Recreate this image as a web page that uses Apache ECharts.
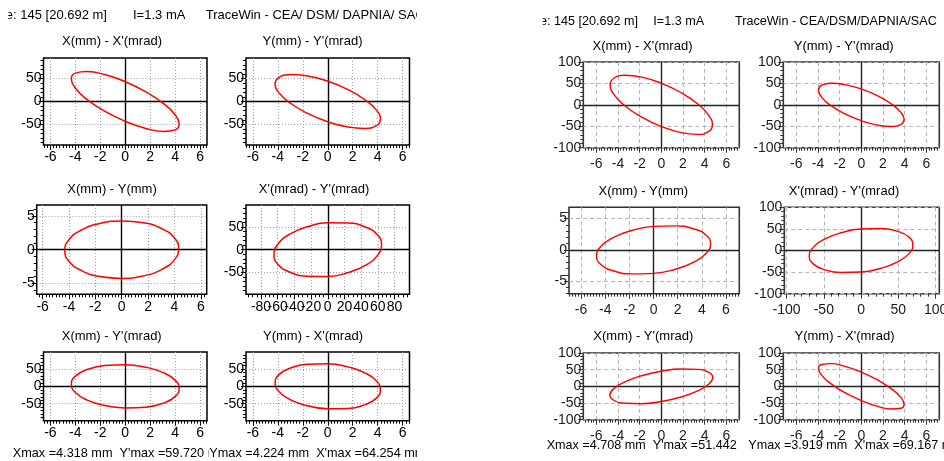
<!DOCTYPE html>
<html><head><meta charset="utf-8">
<script src="https://cdn.jsdelivr.net/npm/echarts@6/dist/echarts.min.js"></script>
<style>html,body{margin:0;padding:0;background:#fff}#c{width:944px;height:461px}</style>
</head><body><div id="c"></div><script>
// ---------- tick labels ----------
const mmMajor = [-6, -4, -2, 0, 2, 4, 6];
const mmMajorXY = [-5, 0, 5];
const mradMajorL = [-50, 0, 50];
const mradMajorR = [-100, -50, 0, 50, 100];
const xpMajorL = [-80, -60, -40, -20, 0, 20, 40, 60, 80];
const xpMajorR = [-100, -50, 0, 50, 100];

// ---------- ellipse outlines, points (left screenshot) ----------
const L_XXp = [[4.32,-49.1],[3.99,-62.0],[3.05,-65.3],[1.65,-58.8],[0,-43.3],[-1.65,-21.2],[-3.05,4.1],[-3.99,28.8],[-4.32,49.1],[-3.99,62.0],[-3.05,65.3],[-1.65,58.8],[0,43.3],[1.65,21.2],[3.05,-4.1],[3.99,-28.8]];
const L_YYp = [[4.22,-38.9],[3.90,-52.9],[2.98,-58.8],[1.62,-55.8],[0,-44.3],[-1.62,-26.0],[-2.98,-3.8],[-3.90,18.9],[-4.22,38.9],[-3.90,52.9],[-2.98,58.8],[-1.62,55.8],[0,44.3],[1.62,26.0],[2.98,3.8],[3.90,-18.9]];
const L_XY = [[4.32,0.13],[3.99,-1.51],[3.05,-2.91],[1.65,-3.88],[0,-4.25],[-1.65,-3.98],[-3.05,-3.09],[-3.99,-1.75],[-4.32,-0.13],[-3.99,1.51],[-3.05,2.91],[-1.65,3.88],[0,4.25],[1.65,3.98],[3.05,3.09],[3.99,1.75]];
const L_XpYp = [[64.5,10.8],[59.6,-12.5],[45.6,-34.0],[24.7,-50.2],[0,-58.8],[-24.7,-58.4],[-45.6,-49.2],[-59.6,-32.5],[-64.5,-10.8],[-59.6,12.5],[-45.6,34.0],[-24.7,50.2],[0,58.8],[24.7,58.4],[45.6,49.2],[59.6,32.5]];
const L_XYp = [[4.32,-6.3],[3.99,-29.6],[3.05,-48.4],[1.65,-59.9],[0,-62.2],[-1.65,-55.1],[-3.05,-39.6],[-3.99,-18.0],[-4.32,6.3],[-3.99,29.6],[-3.05,48.4],[-1.65,59.9],[0,62.2],[1.65,55.1],[3.05,39.6],[3.99,18.0]];
const L_YXp = [[4.22,-9.8],[3.90,-33.9],[2.98,-52.7],[1.62,-63.7],[0,-64.8],[-1.62,-56.1],[-2.98,-38.9],[-3.90,-15.7],[-4.22,9.8],[-3.90,33.9],[-2.98,52.7],[-1.62,63.7],[0,64.8],[1.62,56.1],[2.98,38.9],[3.90,15.7]];

// ---------- ellipse outlines, points (right screenshot) ----------
const R_XXp = [[4.72,-46.9],[4.36,-62.7],[3.34,-69.0],[1.81,-64.8],[0,-50.6],[-1.81,-28.8],[-3.34,-2.6],[-4.36,23.9],[-4.72,46.9],[-4.36,62.7],[-3.34,69.0],[-1.81,64.8],[0,50.6],[1.81,28.8],[3.34,2.6],[4.36,-23.9]];
const R_YYp = [[3.95,-34.3],[3.65,-45.9],[2.79,-50.5],[1.51,-47.3],[0,-37.0],[-1.51,-21.1],[-2.79,-1.9],[-3.65,17.5],[-3.95,34.3],[-3.65,45.9],[-2.79,50.5],[-1.51,47.3],[0,37.0],[1.51,21.1],[2.79,1.9],[3.65,-17.5]];
const R_XY = [[4.72,0.97],[4.36,-0.54],[3.34,-1.96],[1.81,-3.09],[0,-3.75],[-1.81,-3.83],[-3.34,-3.34],[-4.36,-2.34],[-4.72,-0.97],[-4.36,0.54],[-3.34,1.96],[-1.81,3.09],[0,3.75],[1.81,3.83],[3.34,3.34],[4.36,2.34]];
const R_XpYp = [[69.5,12.9],[64.2,-7.2],[49.1,-26.1],[26.6,-41.1],[0,-49.8],[-26.6,-50.9],[-49.1,-44.3],[-64.2,-31.0],[-69.5,-12.9],[-64.2,7.2],[-49.1,26.1],[-26.6,41.1],[0,49.8],[26.6,50.9],[49.1,44.3],[64.2,31.0]];
const R_XYp = [[4.75,26.3],[4.39,6.9],[3.36,-13.6],[1.82,-31.9],[0,-45.5],[-1.82,-52.1],[-3.36,-50.8],[-4.39,-41.7],[-4.75,-26.3],[-4.39,-6.9],[-3.36,13.6],[-1.82,31.9],[0,45.5],[1.82,52.1],[3.36,50.8],[4.39,41.7]];
const R_YXp = [[3.95,-53.4],[3.65,-65.7],[2.79,-68.1],[1.51,-60.1],[0,-42.9],[-1.51,-19.1],[-2.79,7.5],[-3.65,32.9],[-3.95,53.4],[-3.65,65.7],[-2.79,68.1],[-1.51,60.1],[0,42.9],[1.51,19.1],[2.79,-7.5],[3.65,-32.9]];

// ---------- texts ----------
const headerLeft = ["e: 145 [20.692 m]", "I=1.3 mA", "TraceWin - CEA/ DSM/ DAPNIA/ SAC"];
const headerRight = ["e: 145 [20.692 m]", "I=1.3 mA", "TraceWin - CEA/DSM/DAPNIA/SAC"];
const footerLeft = ["Xmax =4.318 mm  Y'max =59.720 mrad", "Ymax =4.224 mm  X'max =64.254 mrad"];
const footerRight = ["Xmax =4.708 mm  Y'max =51.442 mrad", "Ymax =3.919 mm  X'max =69.167 mrad"];

// ---------- layout / styles ----------
const FONT = "'Liberation Sans', Arial, sans-serif";
const SL = {tick:'#000', label:'#000', border:'#000', bw:1.5, grid:'#a0a0a0', dash:[1,2], zero:'#000', xMargin:5.5, lw:1.5};
const SR = {tick:'#333', label:'#1a1a1a', border:'#333', bw:1.6, grid:'#b4b4b4', dash:[4,3], zero:'#222', xMargin:9.5, lw:1.4};

// dense label rows are split over two overlapping axes so that no label gets dropped
const xpLabelsA = xpMajorL.filter((v, k) => k % 2 === 0);
const xpLabelsB = xpMajorL.filter((v, k) => k % 2 === 1);

const plots = [
  {s:SL, box:[43.5,58,163.5,87], x:[-6.55,6.55], y:[-95,95], xt:mmMajor, yt:mradMajorL, xm:0.25, ym:10, data:L_XXp, title:"X(mm) - X'(mrad)", tx:112, ty:41.7},
  {s:SL, box:[246,58,163.5,87], x:[-6.55,6.55], y:[-95,95], xt:mmMajor, yt:mradMajorL, xm:0.25, ym:10, data:L_YYp, title:"Y(mm) - Y'(mrad)", tx:312.5, ty:41.7},
  {s:SL, box:[36.7,205,170,89.3], x:[-6.45,6.45], y:[-6.6,6.6], xt:mmMajor, yt:mmMajorXY, xm:0.25, ym:1, data:L_XY, title:"X(mm) - Y(mm)", tx:112, ty:189.3},
  {s:SL, box:[246,205,163.5,89.3], x:[-98,98], y:[-98,98], xt:xpMajorL, xl:xpLabelsA, xl2:xpLabelsB, yt:mradMajorL, xm:5, ym:10, data:L_XpYp, title:"X'(mrad) - Y'(mrad)", tx:314, ty:189.3},
  {s:SL, box:[43.5,352,163.5,68.7], x:[-6.55,6.55], y:[-99,99], xt:mmMajor, yt:mradMajorL, xm:0.25, ym:10, data:L_XYp, title:"X(mm) - Y'(mrad)", tx:111.7, ty:336},
  {s:SL, box:[246,352,163.5,68.7], x:[-6.55,6.55], y:[-99,99], xt:mmMajor, yt:mradMajorL, xm:0.25, ym:10, data:L_YXp, title:"Y(mm) - X'(mrad)", tx:313, ty:336},
  {s:SR, box:[583.3,62,156,85.7], x:[-7.2,7.2], y:[-100,100], xt:mmMajor, yt:mradMajorR, xm:0.25, ym:10, data:R_XXp, title:"X(mm) - X'(mrad)", tx:642.5, ty:46.7},
  {s:SR, box:[783.3,62,156,85.7], x:[-7.2,7.2], y:[-100,100], xt:mmMajor, yt:mradMajorR, xm:0.25, ym:10, data:R_YYp, title:"Y(mm) - Y'(mrad)", tx:843.7, ty:46.7},
  {s:SR, box:[569,207.3,170.3,86.4], x:[-7,7.1], y:[-7,6.8], xt:mmMajor, yt:mmMajorXY, xm:0.25, ym:1, data:R_XY, title:"X(mm) - Y(mm)", tx:643.3, ty:191.7},
  {s:SR, box:[784.3,207.3,155,86.4], x:[-103,105], y:[-100,100], xt:xpMajorR, yt:mradMajorR, xm:10, ym:10, data:R_XpYp, title:"X'(mrad) - Y'(mrad)", tx:844, ty:191.7},
  {s:SR, box:[583.3,353,156,66.7], x:[-7.2,7.2], y:[-100,100], xt:mmMajor, yt:mradMajorR, xm:0.25, ym:10, data:R_XYp, title:"X(mm) - Y'(mrad)", tx:643.3, ty:336.7},
  {s:SR, box:[783.3,353,156,66.7], x:[-7.2,7.2], y:[-100,100], xt:mmMajor, yt:mradMajorR, xm:0.25, ym:10, data:R_YXp, title:"Y(mm) - X'(mrad)", tx:844.5, ty:336.7}
];

function minorTicks(min, max, step) {
  const out = [];
  const k0 = Math.ceil(min / step - 1e-9), k1 = Math.floor(max / step + 1e-9);
  for (let k = k0; k <= k1; k++) out.push(+(k * step).toFixed(6));
  return out;
}

const grid = [], xAxis = [], yAxis = [], series = [], graphic = [];
plots.forEach((p, i) => {
  const s = p.s;
  grid.push({left:p.box[0], top:p.box[1], width:p.box[2], height:p.box[3], show:true,
    borderColor:s.border, borderWidth:s.bw, backgroundColor:'#fff', containLabel:false, outerBoundsMode:'none'});
  const lbl = (vals, isX) => ({show:!!vals, customValues:vals || [], hideOverlap:false, showMinLabel:true, showMaxLabel:true,
        margin: isX ? s.xMargin : 2, color:s.label, fontSize:14, fontFamily:FONT});
  const mk = (rng, major, labels, labels2, step, isX) => ([
    {type:'value', gridIndex:i, min:rng[0], max:rng[1], position: isX ? 'bottom' : 'left',
      axisLine:{show:false, onZero:false},
      axisTick:{show:true, inside:false, length:5, customValues:major, lineStyle:{color:s.tick, width:1}},
      axisLabel:lbl(labels, isX),
      splitLine:{show:true, lineStyle:{color:s.grid, width:1, type:s.dash}},
      minorTick:{show:false}, minorSplitLine:{show:false}},
    {type:'value', gridIndex:i, min:rng[0], max:rng[1], position: isX ? 'bottom' : 'left',
      axisLine:{show:false, onZero:false},
      axisTick:{show:true, inside:false, length:3, customValues:minorTicks(rng[0], rng[1], step), lineStyle:{color:s.tick, width:1}},
      axisLabel:lbl(labels2, isX), splitLine:{show:false}}
  ]);
  xAxis.push(...mk(p.x, p.xt, p.xl || p.xt, p.xl2, p.xm, true));
  yAxis.push(...mk(p.y, p.yt, p.yt, null, p.ym, false));
  // start the closed outline in a flat stretch of the curve, then close it
  const pts = p.data.slice(4).concat(p.data.slice(0, 4));
  series.push({type:'line', xAxisIndex:2*i, yAxisIndex:2*i, data:pts.concat([pts[0], pts[1]]),
    smooth:0.5, symbol:'none', showSymbol:false, z:3, silent:true,
    lineStyle:{color:'#ff0000', width:s.lw},
    markLine:{silent:true, symbol:['none','none'], z:1, animation:false, label:{show:false},
      lineStyle:{color:s.zero, width:1.4, type:'solid'}, emphasis:{disabled:true},
      data:[{xAxis:0}, {yAxis:0}]}});
  graphic.push({type:'text', x:p.tx, y:p.ty, z:10, style:{text:p.title, fill:'#000', font:'13px ' + FONT, align:'center', verticalAlign:'middle'}});
});

const txt = (t, x, y, fs, z) => ({type:'text', x, y, z, style:{text:t, fill:'#000', font:fs + 'px ' + FONT, align:'left', verticalAlign:'middle'}});
const cover = (x, y, w, h, z) => ({type:'rect', z, shape:{x, y, width:w, height:h}, style:{fill:'#fff'}});
// left header
graphic.push(txt(headerLeft[0], 5.8, 15.7, 13, 10), txt(headerLeft[1], 133, 15.7, 13, 10), txt(headerLeft[2], 205.7, 15.7, 13, 10));
graphic.push(cover(0, 4, 8.3, 24, 11), cover(417, 4, 53, 24, 11));
// right header
graphic.push(txt(headerRight[0], 540, 21.7, 12.6, 10), txt(headerRight[1], 653.3, 21.7, 12.6, 10), txt(headerRight[2], 735, 21.7, 12.6, 10));
graphic.push(cover(470, 10, 72.7, 24, 11));
// left footer
graphic.push(txt(footerLeft[0], 12.7, 453, 12.7, 10), cover(208.8, 445, 40, 16, 11), txt(footerLeft[1], 209.3, 453, 12.7, 12), cover(417, 445, 53, 16, 13));
// right footer
graphic.push(txt(footerRight[0], 546.7, 446, 12.6, 10), cover(740.5, 439, 60, 16, 11), txt(footerRight[1], 748.3, 446, 12.6, 12));

const chart = echarts.init(document.getElementById('c'), null, {renderer:'canvas'});
chart.setOption({animation:false, backgroundColor:'#fff', grid, xAxis, yAxis, series, graphic});
</script></body></html>
